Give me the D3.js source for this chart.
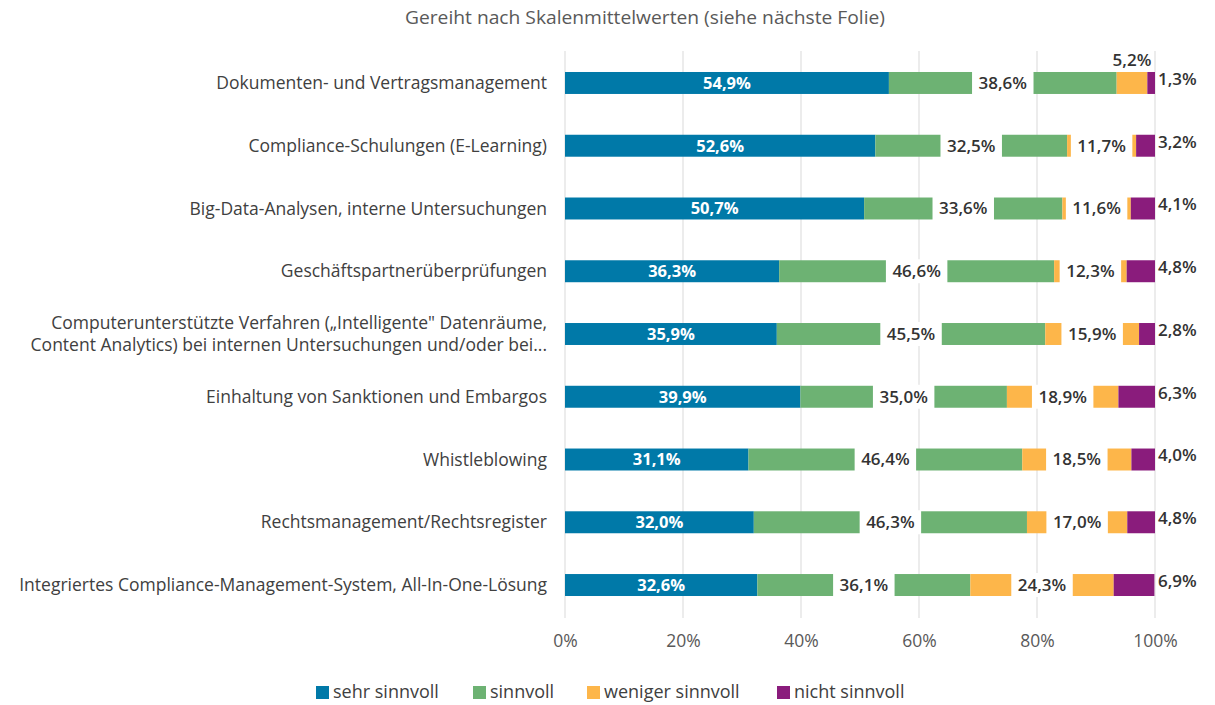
<!DOCTYPE html>
<html>
<head>
<meta charset="utf-8" />
<title>Gereiht nach Skalenmittelwerten</title>
<script src="https://d3js.org/d3.v7.min.js"></script>
<style>
  body { margin: 0; background: #fff; }
  text { font-family: "Open Sans", sans-serif; }
</style>
</head>
<body>
<svg id="chart"></svg>
<script>
// categories (top to bottom)
const categories = [
  "Dokumenten- und Vertragsmanagement",
  "Compliance-Schulungen (E-Learning)",
  "Big-Data-Analysen, interne Untersuchungen",
  "Geschäftspartnerüberprüfungen",
  "Computerunterstützte Verfahren („Intelligente\" Datenräume,|Content Analytics) bei internen Untersuchungen und/oder bei...",
  "Einhaltung von Sanktionen und Embargos",
  "Whistleblowing",
  "Rechtsmanagement/Rechtsregister",
  "Integriertes Compliance-Management-System, All-In-One-Lösung"
];
const seriesNames = ["sehr sinnvoll", "sinnvoll", "weniger sinnvoll", "nicht sinnvoll"];
const sehrSinnvoll    = [54.9, 52.6, 50.7, 36.3, 35.9, 39.9, 31.1, 32.0, 32.6];
const sinnvoll        = [38.6, 32.5, 33.6, 46.6, 45.5, 35.0, 46.4, 46.3, 36.1];
const wenigerSinnvoll = [5.2, 11.7, 11.6, 12.3, 15.9, 18.9, 18.5, 17.0, 24.3];
const nichtSinnvoll   = [1.3, 3.2, 4.1, 4.8, 2.8, 6.3, 4.0, 4.8, 6.9];
const xTicks = [0, 20, 40, 60, 80, 100];
const colors = ["#0079a8", "#6db273", "#fdb64a", "#8a1c7c"];
const title = "Gereiht nach Skalenmittelwerten (siehe nächste Folie)";

const W = 1215, H = 705;
const svg = d3.select("#chart").attr("width", W).attr("height", H);

const x = d3.scaleLinear().domain([0, 100]).range([565, 1155]);
const y = d3.scaleBand().domain(categories).range([51.6, 616.4]).paddingInner(0.65).paddingOuter(0.325);

const fmt = v => d3.format(".1f")(v).replace(".", ",") + "%";

// title (condensed like the original)
svg.append("text").attr("x", 405).attr("y", 24)
  .attr("textLength", 480).attr("lengthAdjust", "spacingAndGlyphs")
  .style("font-size", "19px").style("fill", "#595959").text(title);

// gridlines
svg.append("g").selectAll("line").data(xTicks).join("line")
  .attr("x1", d => x(d)).attr("x2", d => x(d))
  .attr("y1", 51).attr("y2", 618)
  .attr("stroke", "#d9d9d9").attr("stroke-width", 1);

// x axis labels
const xAxis = d3.axisBottom(x).tickValues(xTicks).tickFormat(d => d + "%").tickSize(0).tickPadding(0);
const gx = svg.append("g").attr("transform", "translate(0,635)").call(xAxis);
gx.select(".domain").remove();
gx.selectAll("text").style("font-size", "17.5px").style("fill", "#595959").style("font-family", "Open Sans, sans-serif");

// stack
const rows = categories.map((c, i) => ({
  cat: c, vals: [sehrSinnvoll[i], sinnvoll[i], wenigerSinnvoll[i], nichtSinnvoll[i]]
}));
const segs = [];
rows.forEach((r, i) => {
  let acc = 0;
  r.vals.forEach((v, k) => {
    segs.push({ cat: r.cat, row: i, k: k, v: v, x0: acc, x1: acc + v });
    acc += v;
  });
});

svg.append("g").selectAll("rect").data(segs).join("rect")
  .attr("x", d => x(d.x0))
  .attr("width", d => Math.max(0, x(Math.min(d.x1, 100)) - x(d.x0)))
  .attr("y", d => y(d.cat))
  .attr("height", y.bandwidth())
  .attr("fill", d => colors[d.k]);

// data labels
const lab = svg.append("g");
segs.forEach(d => {
  const cy = y(d.cat) + y.bandwidth() / 2;
  const cx = x((d.x0 + Math.min(d.x1, 100)) / 2);
  if (d.k === 0) {
    lab.append("text").attr("x", cx).attr("y", cy).attr("dy", "0.35em")
      .attr("text-anchor", "middle").style("font-size", "16.5px").style("font-weight", "bold")
      .style("fill", "#fff").text(fmt(d.v));
  } else if (d.k === 3) {
    lab.append("text").attr("x", x(100) + 3).attr("y", cy - 4).attr("dy", "0.35em")
      .attr("text-anchor", "start").style("font-size", "17px").style("font-weight", 600)
      .style("fill", "#333").text(fmt(d.v));
  } else {
    const above = d.v < 8;
    const ty = above ? y(d.cat) - 12 : cy;
    const t = lab.append("text").attr("x", cx).attr("y", ty).attr("dy", "0.35em")
      .attr("text-anchor", "middle").style("font-size", "17px").style("font-weight", 600)
      .style("fill", "#333").text(fmt(d.v));
    if (!above) {
      const bb = t.node().getBBox();
      lab.insert("rect", () => t.node())
        .attr("x", bb.x - 6.5).attr("width", bb.width + 13)
        .attr("y", y(d.cat) - 1).attr("height", y.bandwidth() + 2)
        .attr("fill", "#fff");
    }
  }
});

// category labels
const cl = svg.append("g");
categories.forEach(c => {
  const lines = c.split("|");
  const cy = y(c) + y.bandwidth() / 2;
  const lh = 22;
  lines.forEach((ln, j) => {
    cl.append("text").attr("x", 547)
      .attr("y", cy + (j - (lines.length - 1) / 2) * lh).attr("dy", "0.35em")
      .attr("text-anchor", "end").style("font-size", "17.5px").style("fill", "#404040")
      .text(ln);
  });
});

// legend
const legX = [316, 473, 587, 777];
const leg = svg.append("g");
seriesNames.forEach((s, i) => {
  leg.append("rect").attr("x", legX[i]).attr("y", 686).attr("width", 13).attr("height", 13).attr("fill", colors[i]);
  leg.append("text").attr("x", legX[i] + 17).attr("y", 692).attr("dy", "0.35em")
    .style("font-size", "18px").style("fill", "#404040").text(s);
});
</script>
</body>
</html>
